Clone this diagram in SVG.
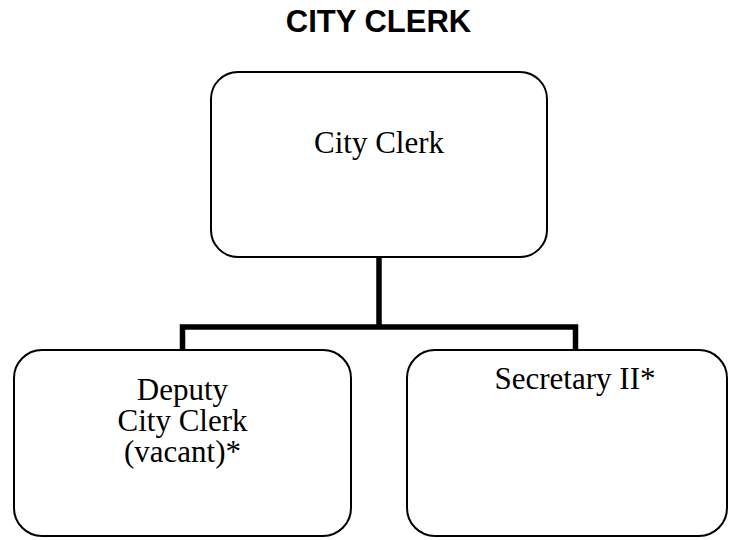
<svg xmlns="http://www.w3.org/2000/svg" width="729" height="540" viewBox="0 0 729 540">
<style>
.box{fill:#fff;stroke:#000;stroke-width:2}
.lbl{font-family:"Liberation Serif",serif;font-size:31px;fill:#000;text-anchor:middle}
.conn{fill:none;stroke:#000;stroke-width:5.5;stroke-linejoin:miter}
.title{font-family:"Liberation Sans",Arial,sans-serif;font-weight:bold;font-size:31px;fill:#000;text-anchor:middle}
</style>
<rect width="729" height="540" fill="#fff"/>
<text class="title" x="378.5" y="32">CITY CLERK</text>
<g id="connectors">
<path class="conn" d="M379,257 V327"/>
<path class="conn" d="M182.5,350 V327 H575.5 V350"/>
</g>
<g id="city-clerk">
<rect class="box" x="211" y="72" width="336" height="185" rx="27" ry="27"/>
<text class="lbl" x="379" y="153">City Clerk</text>
</g>
<g id="deputy-city-clerk">
<rect class="box" x="14" y="350" width="337" height="186" rx="28" ry="28"/>
<text class="lbl" x="182.5" y="400">Deputy</text>
<text class="lbl" x="182.5" y="431">City Clerk</text>
<text class="lbl" x="182.5" y="462">(vacant)*</text>
</g>
<g id="secretary-ii">
<rect class="box" x="407" y="350" width="320" height="186" rx="28" ry="28"/>
<text class="lbl" x="575" y="389">Secretary II*</text>
</g>
</svg>
